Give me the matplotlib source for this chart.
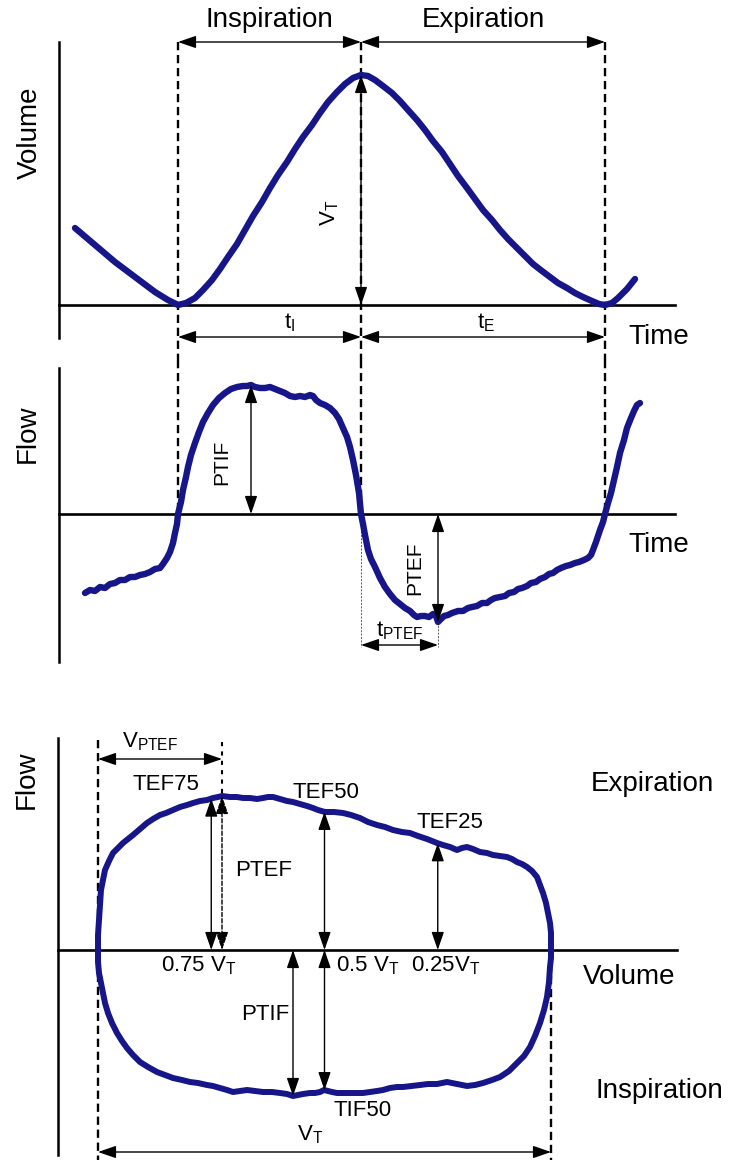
import matplotlib.pyplot as plt
import numpy as np

plt.rcParams["font.family"] = "Liberation Sans"
plt.rcParams["mathtext.fontset"] = "custom"
plt.rcParams["mathtext.rm"] = "Liberation Sans"
plt.rcParams["mathtext.it"] = "Liberation Sans"
plt.rcParams["mathtext.default"] = "regular"

TRACE = "#16168a"

# volume-time trace (time in s, volume in a.u.)
vol_t = [0.16, 0.36, 0.56, 0.76, 0.96, 1.09, 1.19, 1.27, 1.36, 1.44, 1.53, 1.61,
         1.69, 1.78, 1.86, 1.94, 2.03, 2.11, 2.19, 2.28, 2.36, 2.44, 2.53, 2.61,
         2.69, 2.78, 2.86, 2.94, 3.02, 3.09, 3.16, 3.24, 3.33, 3.41, 3.49, 3.58,
         3.66, 3.74, 3.83, 3.91, 3.99, 4.08, 4.16, 4.24, 4.33, 4.41, 4.49, 4.58,
         4.66, 4.74, 4.83, 4.91, 4.99, 5.08, 5.16, 5.24, 5.33, 5.40, 5.46, 5.53,
         5.59, 5.68, 5.76]
vol_v = [0.77, 0.60, 0.43, 0.28, 0.13, 0.05, 0.00, 0.02, 0.07, 0.15, 0.25, 0.36,
         0.48, 0.61, 0.75, 0.89, 1.03, 1.17, 1.30, 1.43, 1.56, 1.68, 1.80, 1.92,
         2.03, 2.13, 2.21, 2.27, 2.30, 2.29, 2.25, 2.19, 2.12, 2.04, 1.95, 1.85,
         1.75, 1.64, 1.53, 1.41, 1.29, 1.17, 1.06, 0.95, 0.85, 0.75, 0.66, 0.57,
         0.49, 0.41, 0.34, 0.28, 0.22, 0.17, 0.12, 0.08, 0.04, 0.01, 0.00, 0.02,
         0.07, 0.16, 0.26]

# phase boundaries (s)
t_insp_start = 1.19
t_exp_start = 3.02
t_exp_end = 5.46

# flow-time trace (time in s, flow in a.u.)
flow_t = [0.26, 0.31, 0.36, 0.41, 0.46, 0.51, 0.56, 0.61, 0.66, 0.71, 0.76, 0.81,
          0.86, 0.91, 0.96, 1.01, 1.04, 1.08, 1.11, 1.14, 1.16, 1.18, 1.19, 1.22,
          1.24, 1.27, 1.29, 1.32, 1.36, 1.40, 1.44, 1.49, 1.54, 1.60, 1.66, 1.72,
          1.78, 1.84, 1.88, 1.92, 1.96, 2.01, 2.06, 2.11, 2.16, 2.21, 2.26, 2.31,
          2.36, 2.41, 2.46, 2.51, 2.54, 2.57, 2.61, 2.66, 2.71, 2.76, 2.80, 2.84,
          2.88, 2.91, 2.94, 2.97, 3.00, 3.02, 3.04, 3.06, 3.09, 3.12, 3.16, 3.21,
          3.26, 3.31, 3.36, 3.41, 3.46, 3.51, 3.55, 3.58, 3.62, 3.66, 3.70, 3.74,
          3.77, 3.79, 3.82, 3.85, 3.89, 3.93, 3.99, 4.04, 4.09, 4.13, 4.18, 4.23,
          4.28, 4.32, 4.36, 4.41, 4.46, 4.50, 4.55, 4.59, 4.63, 4.68, 4.72, 4.77,
          4.81, 4.86, 4.90, 4.94, 4.98, 5.02, 5.07, 5.11, 5.16, 5.20, 5.25, 5.29,
          5.32, 5.34, 5.37, 5.39, 5.41, 5.44, 5.46, 5.49, 5.52, 5.55, 5.58, 5.61,
          5.65, 5.68, 5.72, 5.75, 5.78, 5.81]
flow_f = [-0.79, -0.76, -0.77, -0.73, -0.74, -0.70, -0.69, -0.66, -0.66, -0.63, -0.63, -0.61,
          -0.60, -0.58, -0.55, -0.54, -0.50, -0.44, -0.38, -0.29, -0.19, -0.10, 0.00, 0.12,
          0.24, 0.37, 0.47, 0.59, 0.71, 0.82, 0.92, 1.01, 1.09, 1.16, 1.21, 1.25,
          1.27, 1.28, 1.28, 1.29, 1.27, 1.26, 1.26, 1.27, 1.25, 1.23, 1.21, 1.18,
          1.17, 1.18, 1.17, 1.19, 1.18, 1.14, 1.11, 1.09, 1.06, 1.01, 0.95, 0.86,
          0.77, 0.67, 0.54, 0.39, 0.21, 0.00, -0.10, -0.21, -0.36, -0.45, -0.53, -0.64,
          -0.73, -0.80, -0.86, -0.90, -0.94, -0.97, -1.01, -1.03, -1.02, -1.02, -1.03, -1.00,
          -1.02, -1.08, -1.05, -1.02, -1.01, -0.99, -0.97, -0.97, -0.94, -0.93, -0.92, -0.89,
          -0.89, -0.86, -0.84, -0.83, -0.82, -0.79, -0.78, -0.75, -0.74, -0.72, -0.69, -0.68,
          -0.65, -0.63, -0.60, -0.59, -0.56, -0.54, -0.52, -0.51, -0.49, -0.48, -0.46, -0.44,
          -0.41, -0.36, -0.28, -0.22, -0.16, -0.08, 0.00, 0.11, 0.21, 0.34, 0.47, 0.61,
          0.74, 0.86, 0.96, 1.03, 1.09, 1.11]

# flow-volume loop (expired volume in a.u., flow in a.u.)
exp_vol = [0.00, 0.00, 0.01, 0.02, 0.03, 0.05, 0.07, 0.11, 0.15, 0.20, 0.25, 0.30,
           0.35, 0.42, 0.49, 0.55, 0.62, 0.68, 0.75, 0.82, 0.89, 0.95, 1.02, 1.09,
           1.15, 1.20, 1.24, 1.32, 1.39, 1.45, 1.52, 1.59, 1.65, 1.70, 1.75, 1.82,
           1.89, 1.95, 2.02, 2.09, 2.15, 2.20, 2.27, 2.36, 2.45, 2.53, 2.62, 2.70,
           2.79, 2.87, 2.95, 3.04, 3.12, 3.20, 3.29, 3.34, 3.39, 3.45, 3.52, 3.59,
           3.64, 3.69, 3.75, 3.82, 3.89, 3.95, 4.02, 4.09, 4.14, 4.19, 4.24, 4.29,
           4.34, 4.39, 4.42, 4.45, 4.48, 4.50, 4.52, 4.53, 4.53, 4.53]
exp_flow = [0.00, 0.15, 0.30, 0.45, 0.60, 0.70, 0.80, 0.89, 0.97, 1.02, 1.07, 1.11,
            1.15, 1.21, 1.27, 1.31, 1.35, 1.37, 1.40, 1.43, 1.45, 1.47, 1.49, 1.50,
            1.52, 1.53, 1.54, 1.53, 1.53, 1.52, 1.52, 1.51, 1.52, 1.53, 1.53, 1.51,
            1.49, 1.48, 1.46, 1.44, 1.42, 1.40, 1.38, 1.38, 1.37, 1.35, 1.32, 1.28,
            1.25, 1.23, 1.20, 1.18, 1.17, 1.14, 1.11, 1.09, 1.07, 1.05, 1.03, 1.00,
            1.02, 1.03, 1.01, 0.98, 0.97, 0.95, 0.94, 0.93, 0.91, 0.88, 0.86, 0.83,
            0.79, 0.73, 0.65, 0.57, 0.47, 0.37, 0.27, 0.17, 0.08, 0.00]
insp_vol = [4.53, 4.53, 4.52, 4.51, 4.49, 4.46, 4.42, 4.37, 4.32, 4.26, 4.19, 4.11,
            4.02, 3.94, 3.85, 3.77, 3.69, 3.64, 3.59, 3.54, 3.49, 3.44, 3.39, 3.30,
            3.22, 3.13, 3.05, 2.99, 2.92, 2.85, 2.79, 2.72, 2.65, 2.58, 2.52, 2.45,
            2.39, 2.34, 2.30, 2.26, 2.22, 2.17, 2.12, 2.05, 2.00, 1.95, 1.89, 1.82,
            1.74, 1.65, 1.57, 1.49, 1.42, 1.35, 1.29, 1.22, 1.15, 1.09, 1.00, 0.92,
            0.84, 0.75, 0.67, 0.59, 0.50, 0.42, 0.35, 0.29, 0.24, 0.19, 0.14, 0.10,
            0.07, 0.05, 0.03, 0.01, 0.00, 0.00]
insp_flow = [0.00, -0.08, -0.17, -0.32, -0.47, -0.60, -0.73, -0.86, -0.97, -1.06, -1.13, -1.21,
             -1.27, -1.30, -1.33, -1.35, -1.36, -1.35, -1.34, -1.33, -1.32, -1.33, -1.34, -1.34,
             -1.35, -1.36, -1.37, -1.37, -1.38, -1.40, -1.41, -1.42, -1.43, -1.43, -1.43, -1.43,
             -1.43, -1.42, -1.41, -1.40, -1.42, -1.43, -1.43, -1.44, -1.45, -1.46, -1.44, -1.43,
             -1.42, -1.42, -1.41, -1.40, -1.41, -1.42, -1.40, -1.38, -1.36, -1.35, -1.33, -1.32,
             -1.30, -1.28, -1.25, -1.22, -1.17, -1.12, -1.05, -0.98, -0.91, -0.83, -0.73, -0.63,
             -0.53, -0.43, -0.33, -0.23, -0.12, 0.00]

tef_fractions = [0.25, 0.5, 0.75]   # expired fraction of V_T for TEF75, TEF50, TEF25
tef_labels = ["0.75 V$_T$", "0.5 V$_T$", "0.25V$_T$"]

DASH = (0, (3.5, 2))
BIG = 20
MID = 16


def arrow(ax, x0, y0, x1, y1, ls="-"):
    ax.annotate("", xy=(x1, y1), xytext=(x0, y0), annotation_clip=False,
                arrowprops=dict(arrowstyle="<|-|>,head_length=1.1,head_width=0.38",
                                mutation_scale=10, lw=1.0, color="k", linestyle=ls,
                                shrinkA=0, shrinkB=0), zorder=5)


def band(top, bottom, height=1164):
    return [0, 1 - bottom / height, 1, (bottom - top) / height]


fig = plt.figure(figsize=(7.3, 11.64), dpi=100)

# --- volume vs time -------------------------------------------------------
ax = fig.add_axes(band(0, 360))
ax.set_xlim(-0.59, 6.71)
ax.set_ylim(-0.55, 3.05)
ax.axis("off")

ax.plot([0, 0], [-0.33, 2.63], color="k", lw=1.8, clip_on=False)
ax.plot([0, 6.16], [0, 0], color="k", lw=1.9, clip_on=False)
for t in (t_insp_start, t_exp_start, t_exp_end):
    ax.plot([t, t], [2.63, -0.55], color="k", lw=1.7, ls=DASH, clip_on=False)
ax.plot(vol_t, vol_v, color=TRACE, lw=4.6, solid_capstyle="round",
        solid_joinstyle="round", zorder=3, clip_on=False)

vt = max(vol_v)
arrow(ax, t_insp_start, 2.63, t_exp_start, 2.63)
arrow(ax, t_exp_start, 2.63, t_exp_end, 2.63)
arrow(ax, t_exp_start, 0, t_exp_start, vt)
arrow(ax, t_insp_start, -0.32, t_exp_start, -0.32)
arrow(ax, t_exp_start, -0.32, t_exp_end, -0.32)

ax.text((t_insp_start + t_exp_start) / 2, 2.85, "Inspiration", fontsize=BIG,
        ha="center", va="center")
ax.text((t_exp_start + t_exp_end) / 2, 2.85, "Expiration", fontsize=BIG,
        ha="center", va="center")
ax.text(2.71, 0.92, "V$_T$", fontsize=MID, rotation=90, ha="center", va="center")
ax.text(2.31, -0.18, "t$_I$", fontsize=MID, ha="center", va="center")
ax.text(4.27, -0.18, "t$_E$", fontsize=MID, ha="center", va="center")
ax.text(6.0, -0.32, "Time", fontsize=BIG, ha="center", va="center")
ax.text(-0.29, 1.72, "Volume", fontsize=BIG, rotation=90, ha="center", va="center")

# --- flow vs time ---------------------------------------------------------
ax = fig.add_axes(band(360, 690))
ax.set_xlim(-0.59, 6.71)
ax.set_ylim(-1.76, 1.54)
ax.axis("off")

ax.plot([0, 0], [1.46, -1.48], color="k", lw=1.8, clip_on=False)
ax.plot([0, 6.16], [0, 0], color="k", lw=1.9, clip_on=False)
for t in (t_insp_start, t_exp_start, t_exp_end):
    ax.plot([t, t], [1.54, 0], color="k", lw=1.7, ls=DASH, clip_on=False)
ax.plot(flow_t, flow_f, color=TRACE, lw=4.6, solid_capstyle="round",
        solid_joinstyle="round", zorder=3)

i_max = int(np.argmax(flow_f))
i_min = int(np.argmin(flow_f))
t_ptif, ptif = flow_t[i_max], flow_f[i_max]
t_ptef, ptef = flow_t[i_min], flow_f[i_min]
arrow(ax, t_ptif, 0, t_ptif, ptif)
arrow(ax, t_ptef, 0, t_ptef, ptef)
ax.plot([t_exp_start, t_exp_start], [0, -1.33], color="0.35", lw=0.7, ls=(0, (2, 1.5)))
ax.plot([t_ptef, t_ptef], [ptef, -1.33], color="0.35", lw=0.7, ls=(0, (2, 1.5)))
arrow(ax, t_exp_start, -1.31, t_ptef, -1.31)

ax.text(1.63, 0.52, "PTIF", fontsize=15, rotation=90, ha="center", va="center")
ax.text(3.56, -0.54, "PTEF", fontsize=15, rotation=90, ha="center", va="center")
ax.text(3.41, -1.17, "t$_{PTEF}$", fontsize=16, ha="center", va="center")
ax.text(6.0, -0.31, "Time", fontsize=BIG, ha="center", va="center")
ax.text(-0.31, 0.80, "Flow", fontsize=BIG, rotation=90, ha="center", va="center")

# --- flow vs volume loop --------------------------------------------------
ax = fig.add_axes(band(690, 1164))
ax.set_xlim(-0.98, 6.32)
ax.set_ylim(-2.14, 2.60)
ax.axis("off")

VT = max(exp_vol)
ax.plot([-0.40, -0.40], [2.12, -2.05], color="k", lw=1.8, clip_on=False)
ax.plot([-0.40, 5.79], [0, 0], color="k", lw=1.9)
ax.plot([0, 0], [2.10, -2.10], color="k", lw=1.7, ls=DASH, clip_on=False)
ax.plot([VT, VT], [0, -2.10], color="k", lw=1.7, ls=DASH, clip_on=False)

ax.plot(exp_vol + insp_vol[1:], exp_flow + insp_flow[1:], color=TRACE, lw=4.3,
        solid_capstyle="round", solid_joinstyle="round", zorder=3)

i_pk = int(np.argmax(exp_flow))
v_ptef, f_ptef = exp_vol[i_pk], exp_flow[i_pk]
ax.plot([v_ptef, v_ptef], [2.08, f_ptef], color="k", lw=1.5, ls=(0, (2, 2.5)))
arrow(ax, 0, 1.91, v_ptef, 1.91)
arrow(ax, v_ptef, 0, v_ptef, f_ptef, ls=(0, (3, 1.5)))

for frac in tef_fractions:
    v = frac * VT
    arrow(ax, v, 0, v, np.interp(v, exp_vol, exp_flow))
ax.text(0.63, -0.16, tef_labels[0], fontsize=MID, ha="left", va="center")
ax.text(2.38, -0.16, tef_labels[1], fontsize=MID, ha="left", va="center")
ax.text(3.13, -0.16, tef_labels[2], fontsize=MID, ha="left", va="center")

i_ti = int(np.argmin(insp_flow))
v_ptif, f_ptif = insp_vol[i_ti], insp_flow[i_ti]
arrow(ax, v_ptif, 0, v_ptif, f_ptif)
v50 = 0.5 * VT
arrow(ax, v50, 0, v50, np.interp(v50, insp_vol[::-1], insp_flow[::-1]))
arrow(ax, 0, -2.02, VT, -2.02)

ax.text(0.52, 2.08, "V$_{PTEF}$", fontsize=MID, ha="center", va="center")
ax.text(0.68, 1.65, "TEF75", fontsize=MID, ha="center", va="center")
ax.text(2.28, 1.58, "TEF50", fontsize=MID, ha="center", va="center")
ax.text(3.52, 1.28, "TEF25", fontsize=MID, ha="center", va="center")
ax.text(1.66, 0.80, "PTEF", fontsize=MID, ha="center", va="center")
ax.text(1.67, -0.65, "PTIF", fontsize=MID, ha="center", va="center")
ax.text(2.65, -1.60, "TIF50", fontsize=MID, ha="center", va="center")
ax.text(2.12, -1.85, "V$_T$", fontsize=MID, ha="center", va="center")
ax.text(5.54, 1.66, "Expiration", fontsize=BIG, ha="center", va="center")
ax.text(5.31, -0.27, "Volume", fontsize=BIG, ha="center", va="center")
ax.text(5.61, -1.41, "Inspiration", fontsize=BIG, ha="center", va="center")
ax.text(-0.71, 1.70, "Flow", fontsize=BIG, rotation=90, ha="center", va="center")

fig.savefig("out.png", dpi=100)
